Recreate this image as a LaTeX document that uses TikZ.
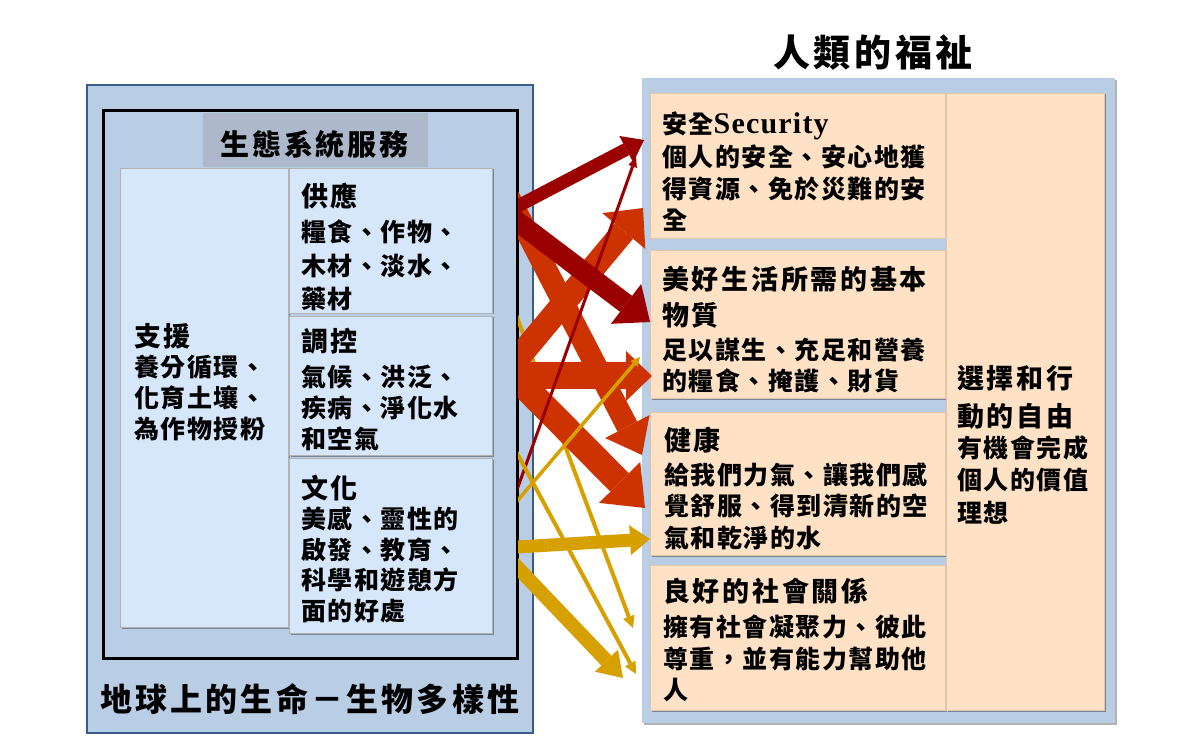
\documentclass[tikz,border=0pt]{standalone}
\usepackage{fontspec}
\usetikzlibrary{arrows.meta,shadows}
\newfontfamily\cjkA{Noto Sans CJK TC}[LetterSpace=6]
\newfontfamily\cjkB{Noto Sans CJK TC}[LetterSpace=10]
\newfontfamily\latserif{Liberation Serif}[LetterSpace=4]
\definecolor{panelblue}{HTML}{B9CDE5}
\definecolor{boxblue}{HTML}{D7E7FB}
\definecolor{bargray}{HTML}{ADB9CA}
\definecolor{peach}{HTML}{FFE2C6}
\definecolor{frameblue}{HTML}{385D8A}
\definecolor{darkred}{HTML}{9A0000}
\definecolor{orangered}{HTML}{CC3300}
\definecolor{mygold}{HTML}{D6A100}
\begin{document}
\begin{tikzpicture}[x=1pt,y=-1pt,
  boxbase/.style={anchor=north west, inner sep=0pt, outer sep=0pt},
  bluebox/.style={boxbase, fill=boxblue, draw=gray!60, line width=0.8pt,
     drop shadow={shadow xshift=1.5pt, shadow yshift=-1.5pt, opacity=0.35, fill=black}},
  peachbox/.style={boxbase, fill=peach, draw=brown!45, line width=0.8pt,
     drop shadow={shadow xshift=1.5pt, shadow yshift=-1.5pt, opacity=0.35, fill=black}},
  headtxt/.style={anchor=north west, inner sep=0pt, align=left, font=\cjkB\bfseries\fontsize{27}{35}\selectfont},
  bodytxt/.style={anchor=north west, inner sep=0pt, align=left, font=\cjkA\bfseries\fontsize{25}{31.5}\selectfont},
  arr/.style n args={4}{color=#1, line width=#2, shorten <=-20pt, -{Triangle[width=#3, length=#4, line width=0pt]}}
]
\useasboundingbox[fill=white] (0,0) rectangle (1200,743);

% ---------- left side ----------
\node[boxbase, draw=frameblue, line width=2pt, fill=panelblue, minimum width=446pt, minimum height=648pt] (outer) at (87,85) {};
\node[boxbase, draw=black, line width=3pt, fill=panelblue, minimum width=414pt, minimum height=547pt] (inner) at (103,111) {};
\node[boxbase, fill=bargray, minimum width=225pt, minimum height=54pt] (bar) at (203,113) {};
\node[bluebox, minimum width=168pt, minimum height=459pt] (supbox) at (120,168) {};
\node[bluebox, minimum width=203pt, minimum height=145pt] (provbox) at (289,168) {};
\node[bluebox, minimum width=203pt, minimum height=139pt] (regbox) at (289,316) {};
\node[bluebox, minimum width=203pt, minimum height=175pt] (culbox) at (289,458) {};

\node[anchor=north west, inner sep=0pt, font=\cjkB\bfseries\fontsize{29}{34}\selectfont] (tes) at (220,130) {生態系統服務};
\node[headtxt] (hsup) at (134,323) {支援};
\node[bodytxt, font=\cjkA\bfseries\fontsize{25}{31}\selectfont] (tsup) at (134,355) {養分循環、\\化育土壤、\\為作物授粉};
\node[headtxt] (hprov) at (301,183) {供應};
\node[bodytxt, font=\cjkA\bfseries\fontsize{25}{33.5}\selectfont] (tprov) at (301,220) {糧食、作物、\\木材、淡水、\\藥材};
\node[headtxt] (hreg) at (301,328) {調控};
\node[bodytxt, font=\cjkA\bfseries\fontsize{25}{31}\selectfont] (treg) at (301,365) {氣候、洪泛、\\疾病、淨化水\\和空氣};
\node[headtxt] (hcul) at (301,475) {文化};
\node[bodytxt, font=\cjkA\bfseries\fontsize{25}{30.5}\selectfont] (tcul) at (301,507) {美感、靈性的\\啟發、教育、\\科學和遊憩方\\面的好處};
\node[anchor=north west, inner sep=0pt, font=\cjkB\bfseries\fontsize{32}{38}\selectfont] (tlife) at (100,683) {地球上的生命－生物多樣性};

% ---------- right side ----------
\node[anchor=north west, inner sep=0pt, font=\cjkB\bfseries\fontsize{37}{42}\selectfont] (thw) at (773,35) {人類的福祉};
\node[boxbase, fill=panelblue, minimum width=473pt, minimum height=645pt,
     drop shadow={shadow xshift=1.5pt, shadow yshift=-2pt, opacity=0.3, fill=black}] (rpanel) at (642,78) {};
\node[peachbox, minimum width=295pt, minimum height=145pt] (secbox) at (650,93) {};
\node[peachbox, minimum width=295pt, minimum height=148pt] (matbox) at (650,250) {};
\node[peachbox, minimum width=295pt, minimum height=143pt] (heabox) at (650,412) {};
\node[peachbox, minimum width=295pt, minimum height=145pt] (socbox) at (650,565) {};
\node[peachbox, minimum width=158pt, minimum height=617pt] (freebox) at (946,93) {};

\node[bodytxt] (hsec) at (662,112) {安全{\latserif\bfseries\fontsize{30}{35}\selectfont Security}};
\node[bodytxt] (tsec) at (662,145) {個人的安全、安心地獲\\得資源、免於災難的安\\全};
\node[headtxt, font=\cjkB\bfseries\fontsize{27}{36}\selectfont] (hmat) at (662,266) {美好生活所需的基本\\物質};
\node[bodytxt, font=\cjkA\bfseries\fontsize{25}{30.5}\selectfont] (tmat) at (662,338) {足以謀生、充足和營養\\的糧食、掩護、財貨};
\node[headtxt] (hhea) at (664,427) {健康};
\node[bodytxt] (thea) at (664,462) {給我們力氣、讓我們感\\覺舒服、得到清新的空\\氣和乾淨的水};
\node[headtxt] (hsoc) at (663,578) {良好的社會關係};
\node[bodytxt] (tsoc) at (663,615) {擁有社會凝聚力、彼此\\尊重，並有能力幫助他\\人};
\node[headtxt, font=\cjkB\bfseries\fontsize{27}{38}\selectfont] (hfree) at (957,365) {選擇和行\\動的自由};
\node[bodytxt, font=\cjkA\bfseries\fontsize{25}{32.5}\selectfont] (tfree) at (957,435) {有機會完成\\個人的價值\\理想};

% ---------- arrows ----------
\coordinate (r1t) at (518,206); \coordinate (r1h) at (644,140);
\coordinate (r2t) at (518,222); \coordinate (r2h) at (650,322);
\coordinate (r3t) at (518,487); \coordinate (r3h) at (636,157);
\coordinate (o1t) at (518,358); \coordinate (o1h) at (643,208);
\coordinate (o2t) at (518,215); \coordinate (o2h) at (642,455);
\coordinate (o3t) at (518,376); \coordinate (o3h) at (652,376);
\coordinate (o4t) at (518,380); \coordinate (o4h) at (645,508);
\coordinate (g1t) at (518,500); \coordinate (g1h) at (640,357);
\coordinate (g2t) at (518,455); \coordinate (g2h) at (636,674);
\coordinate (g3t) at (518,320); \coordinate (g3h) at (633,628);
\coordinate (g4t) at (518,547); \coordinate (g4h) at (650,539);
\coordinate (g5t) at (518,568); \coordinate (g5h) at (623,678);
\begin{scope}
\clip (518,0) rectangle (1200,743);
\draw[arr={mygold}{4pt}{12pt}{12pt}] (g3t) -- (g3h);
\draw[arr={orangered}{22pt}{50pt}{32pt}] (o2t) -- (o2h);
\draw[arr={orangered}{24pt}{56pt}{30pt}] (o1t) -- (o1h);
\draw[arr={orangered}{26pt}{58pt}{36pt}] (o4t) -- (o4h);
\draw[arr={orangered}{27pt}{50pt}{26pt}] (o3t) -- (o3h);
\draw[arr={darkred}{20pt}{50pt}{30pt}] (r2t) -- (r2h);
\draw[arr={darkred}{13pt}{30pt}{20pt}] (r1t) -- (r1h);
\draw[arr={darkred}{3pt}{9pt}{10pt}] (r3t) -- (r3h);
\draw[arr={mygold}{3.5pt}{9pt}{9pt}] (g1t) -- (g1h);
\draw[arr={mygold}{4pt}{12pt}{12pt}] (g2t) -- (g2h);
\draw[arr={mygold}{13pt}{30pt}{20pt}] (g4t) -- (g4h);
\draw[arr={mygold}{14pt}{32pt}{24pt}] (g5t) -- (g5h);
\end{scope}
\end{tikzpicture}
\end{document}
